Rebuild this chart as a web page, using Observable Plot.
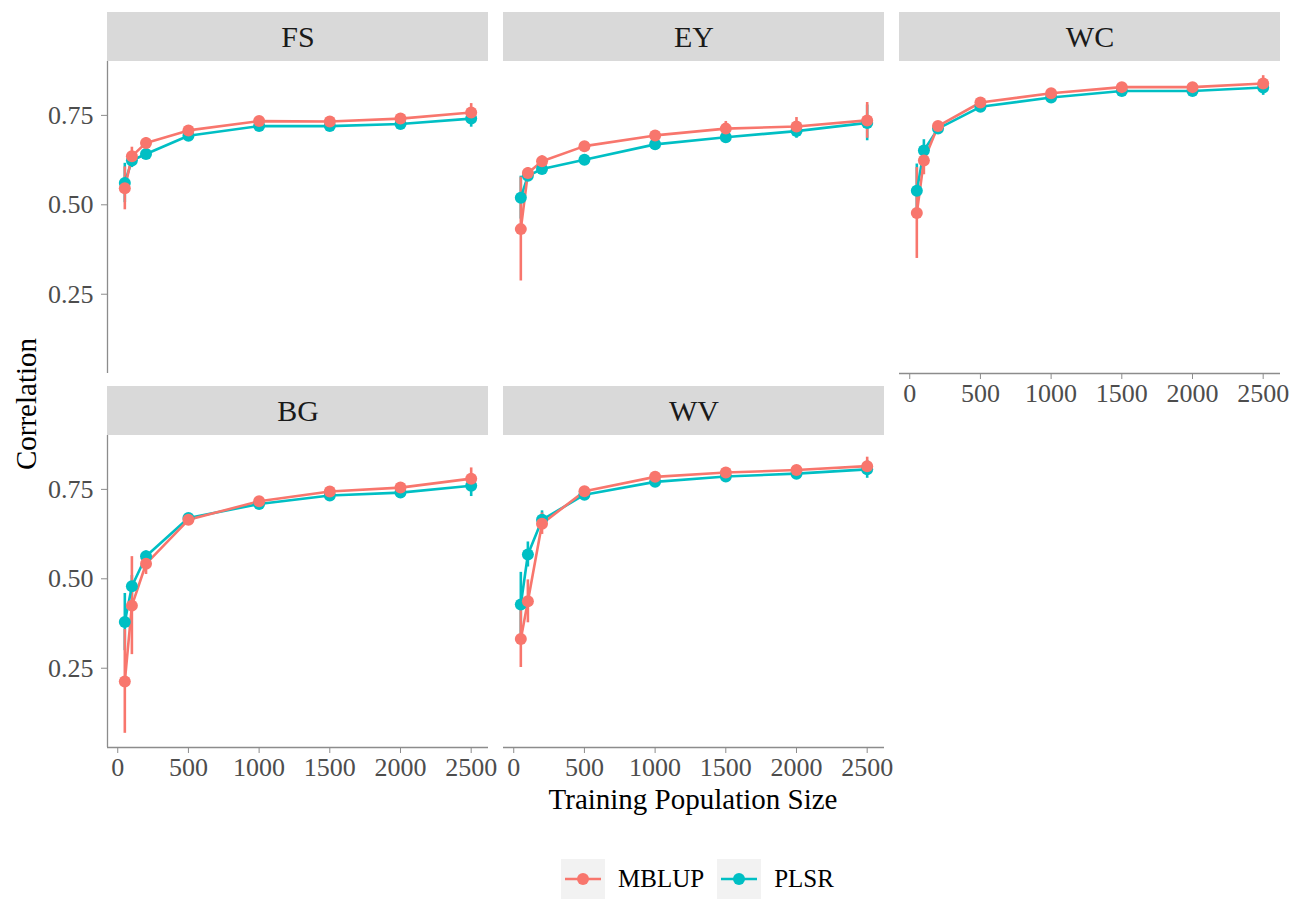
<!DOCTYPE html>
<html>
<head>
<meta charset="utf-8">
<script src="https://cdn.jsdelivr.net/npm/d3@7"></script>
<script src="https://cdn.jsdelivr.net/npm/@observablehq/plot@0.6"></script>
<style>
  body { margin: 0; background: #ffffff; font-family: "Liberation Serif", "Times New Roman", serif; }
  #wrap { position: relative; width: 1290px; height: 900px; background: #fff; }
  #chart { position: absolute; left: 0; top: 0; }
  #ytitle { position: absolute; left: 26px; top: 404px; transform: translate(-50%, -50%) rotate(-90deg);
            font-size: 29px; color: #000; white-space: nowrap; line-height: 1; }
  #xtitle { position: absolute; left: 693px; top: 788px; transform: translateX(-50%);
            font-size: 29px; color: #000; white-space: nowrap; line-height: 0.8; }
  #legend { position: absolute; left: 0; width: 1290px; top: 859px; display: flex; justify-content: center;
            align-items: center; font-size: 25px; color: #000; padding-left: 118px; box-sizing: border-box; }
  .key { display: flex; align-items: center; margin-right: 13px; }
  .key svg { display: block; margin-right: 13px; }
</style>
</head>
<body>
<div id="wrap">
  <div id="chart"></div>
  <div id="ytitle">Correlation</div>
  <div id="xtitle">Training Population Size</div>
  <div id="legend"></div>
</div>
<script>
// ---------- data ----------
const sizes = [50, 100, 200, 500, 1000, 1500, 2000, 2500];
const traits = ["FS", "EY", "WC", "BG", "WV"];
const methods = ["MBLUP", "PLSR"];
const methodColors = ["#F8766D", "#00BFC4"];
const xTicks = [0, 500, 1000, 1500, 2000, 2500];
const yTicks = [0.25, 0.50, 0.75];

const FS_MBLUP    = [0.546, 0.636, 0.673, 0.708, 0.734, 0.733, 0.741, 0.758];
const FS_MBLUP_SD = [0.060, 0.025, 0.015, 0.010, 0.010, 0.010, 0.012, 0.025];
const FS_PLSR     = [0.561, 0.624, 0.642, 0.693, 0.720, 0.720, 0.726, 0.741];
const FS_PLSR_SD  = [0.055, 0.020, 0.015, 0.010, 0.010, 0.010, 0.012, 0.024];

const EY_MBLUP    = [0.432, 0.589, 0.622, 0.664, 0.694, 0.713, 0.719, 0.736];
const EY_MBLUP_SD = [0.145, 0.015, 0.015, 0.010, 0.010, 0.020, 0.025, 0.050];
const EY_PLSR     = [0.520, 0.581, 0.600, 0.626, 0.669, 0.689, 0.706, 0.729];
const EY_PLSR_SD  = [0.060, 0.015, 0.012, 0.010, 0.010, 0.015, 0.020, 0.050];

const WC_MBLUP    = [0.477, 0.624, 0.720, 0.786, 0.812, 0.829, 0.829, 0.839];
const WC_MBLUP_SD = [0.127, 0.040, 0.012, 0.010, 0.010, 0.010, 0.010, 0.022];
const WC_PLSR     = [0.539, 0.652, 0.713, 0.774, 0.800, 0.818, 0.818, 0.828];
const WC_PLSR_SD  = [0.075, 0.030, 0.012, 0.010, 0.010, 0.010, 0.010, 0.022];

const BG_MBLUP    = [0.213, 0.425, 0.542, 0.665, 0.717, 0.744, 0.755, 0.780];
const BG_MBLUP_SD = [0.145, 0.137, 0.030, 0.015, 0.010, 0.010, 0.010, 0.030];
const BG_PLSR     = [0.379, 0.479, 0.563, 0.670, 0.709, 0.733, 0.741, 0.760];
const BG_PLSR_SD  = [0.080, 0.030, 0.015, 0.010, 0.010, 0.010, 0.010, 0.030];

const WV_MBLUP    = [0.332, 0.437, 0.654, 0.745, 0.785, 0.797, 0.804, 0.815];
const WV_MBLUP_SD = [0.080, 0.060, 0.030, 0.012, 0.010, 0.010, 0.010, 0.025];
const WV_PLSR     = [0.428, 0.568, 0.665, 0.735, 0.771, 0.786, 0.794, 0.806];
const WV_PLSR_SD  = [0.090, 0.035, 0.025, 0.012, 0.010, 0.010, 0.010, 0.025];

// ---------- tables built from the arrays ----------
const seriesTable = {
  FS: {MBLUP: [FS_MBLUP, FS_MBLUP_SD], PLSR: [FS_PLSR, FS_PLSR_SD]},
  EY: {MBLUP: [EY_MBLUP, EY_MBLUP_SD], PLSR: [EY_PLSR, EY_PLSR_SD]},
  WC: {MBLUP: [WC_MBLUP, WC_MBLUP_SD], PLSR: [WC_PLSR, WC_PLSR_SD]},
  BG: {MBLUP: [BG_MBLUP, BG_MBLUP_SD], PLSR: [BG_PLSR, BG_PLSR_SD]},
  WV: {MBLUP: [WV_MBLUP, WV_MBLUP_SD], PLSR: [WV_PLSR, WV_PLSR_SD]}
};

const NCOL = 3;
const panels = traits.map((t, i) => ({trait: t, col: i % NCOL, row: Math.floor(i / NCOL)}));
const bottomPanels = panels.filter(p => !panels.some(q => q.col === p.col && q.row === p.row + 1));
const leftPanels = panels.filter(p => p.col === 0);

const rows = [];
// PLSR first so MBLUP is drawn on top
for (const m of ["PLSR", "MBLUP"]) {
  for (const p of panels) {
    const [vals, sds] = seriesTable[p.trait][m];
    sizes.forEach((s, k) => rows.push({
      trait: p.trait, col: p.col, row: p.row, method: m, size: s,
      value: vals[k], lo: vals[k] - sds[k], hi: vals[k] + sds[k]
    }));
  }
}

// scale domains (ggplot-style 5% expansion)
const xExt = [d3.min(sizes), d3.max(sizes)];
const xPad = (xExt[1] - xExt[0]) * 0.05;
const xDomain = [xExt[0] - xPad, xExt[1] + xPad];
const yExt = [d3.min(rows, d => d.lo), d3.max(rows, d => d.hi)];
const yPad = (yExt[1] - yExt[0]) * 0.05;
const yDomain = [yExt[0] - yPad, yExt[1] + yPad];

const axisColor = "#8c8c8c";
const STRIP = 49;

const plot = Plot.plot({
  width: 1290,
  height: 800,
  marginTop: 60,
  marginLeft: 107,
  marginRight: 10,
  marginBottom: 52,
  style: {fontFamily: "'Liberation Serif', 'Times New Roman', serif", fontSize: "26px", color: "#4d4d4d", background: "white", overflow: "visible"},
  fx: {axis: null, domain: [0, 1, 2], paddingInner: 0.0379, paddingOuter: 0},
  fy: {axis: null, domain: [0, 1], paddingInner: 0.1653, paddingOuter: 0},
  x: {domain: xDomain},
  y: {domain: yDomain},
  color: {domain: methods, range: methodColors},
  marks: [
    // strips
    Plot.rect(panels, {fx: "col", fy: "row", x1: () => xDomain[0], x2: () => xDomain[1],
                       y1: () => yDomain[1], y2: () => yDomain[1], insetTop: -STRIP, fill: "#d9d9d9"}),
    Plot.text(panels, {fx: "col", fy: "row", text: "trait", frameAnchor: "top", dy: -STRIP / 2,
                       fontSize: 30, fill: "#1a1a1a", lineAnchor: "middle"}),
    // axis lines
    Plot.ruleX(leftPanels, {fx: "col", fy: "row", x: () => xDomain[0], stroke: axisColor, strokeWidth: 1.3}),
    Plot.ruleY(bottomPanels, {fx: "col", fy: "row", y: () => yDomain[0], stroke: axisColor, strokeWidth: 1.3}),
    Plot.axisY({ticks: yTicks, tickFormat: d3.format(".2f"), tickSize: 6, tickPadding: 8,
                stroke: axisColor, fill: "#4d4d4d", facetAnchor: "left", label: null}),
    Plot.axisX({ticks: xTicks, tickFormat: d3.format("d"), tickSize: 6, tickPadding: 4,
                stroke: axisColor, fill: "#4d4d4d", facetAnchor: "bottom-empty", label: null}),
    // data
    Plot.ruleX(rows, {fx: "col", fy: "row", x: "size", y1: "lo", y2: "hi", stroke: "method", strokeWidth: 2.6}),
    Plot.line(rows, {fx: "col", fy: "row", x: "size", y: "value", z: "method", stroke: "method", strokeWidth: 2.6}),
    Plot.dot(rows, {fx: "col", fy: "row", x: "size", y: "value", fill: "method", r: 6})
  ]
});
document.getElementById("chart").appendChild(plot);

// ---------- legend ----------
const colorScale = plot.scale("color");
const legend = document.getElementById("legend");
methods.forEach(m => {
  const c = colorScale.apply(m);
  const key = document.createElement("div");
  key.className = "key";
  key.innerHTML = `<svg width="44" height="40"><rect width="44" height="40" fill="#f2f2f2"></rect>
    <line x1="4" x2="40" y1="20" y2="20" stroke="${c}" stroke-width="2.6"></line>
    <circle cx="22" cy="20" r="6" fill="${c}"></circle></svg><span>${m}</span>`;
  legend.appendChild(key);
});
</script>
</body>
</html>
